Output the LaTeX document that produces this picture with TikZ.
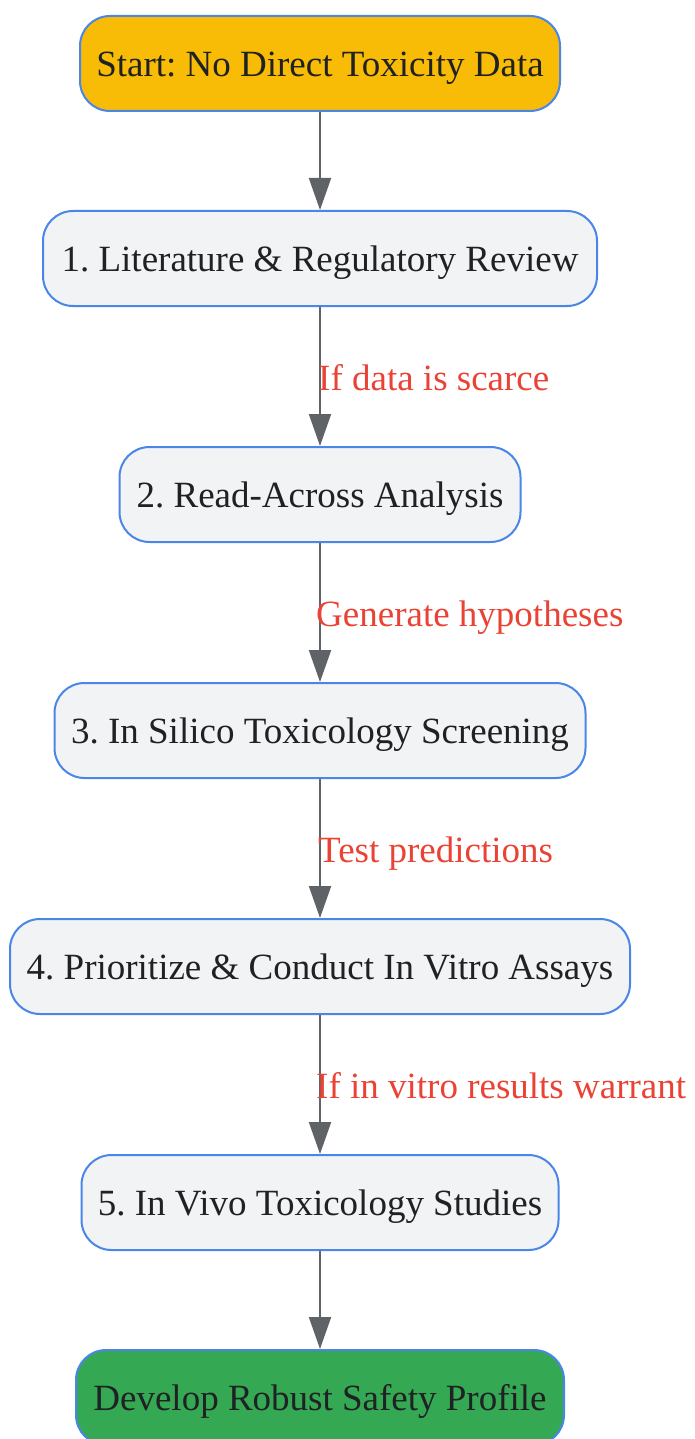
\documentclass[tikz,border=0pt]{standalone}
\usepackage{fontspec}
\setmainfont{Liberation Serif}
\usetikzlibrary{arrows.meta}
\frenchspacing
\definecolor{bordblue}{HTML}{4A86E8}
\definecolor{startfill}{HTML}{F9BC06}
\definecolor{endfill}{HTML}{34A853}
\definecolor{stepfill}{HTML}{F1F3F4}
\definecolor{txt}{HTML}{202124}
\definecolor{arrowgray}{HTML}{5F6368}
\definecolor{lblred}{HTML}{EA4335}
\tikzset{
  box/.style={draw=bordblue, line width=2pt, rounded corners=30pt, minimum height=95pt, inner sep=0pt, text height=34pt, text depth=8pt, text=txt, font=\fontsize{37}{44}\selectfont},
  stepbox/.style={box, fill=stepfill},
  conn/.style={draw=arrowgray, line width=2pt, -{Triangle[length=32pt,width=22pt]}},
  lbl/.style={anchor=west, text=lblred, inner sep=0pt, text height=25pt, text depth=0pt, font=\fontsize{37}{44}\selectfont}
}
\begin{document}
\begin{tikzpicture}[x=1pt,y=-1pt]
\useasboundingbox (0,0) rectangle (695,1439);
\node[box, fill=startfill, minimum width=480pt] (start) at (320,63.5) {Start: No Direct Toxicity Data};
\node[stepbox, minimum width=554pt] (s1) at (320,258.5) {1. Literature \& Regulatory Review};
\node[stepbox, minimum width=401pt] (s2) at (320,494.5) {2. Read-Across Analysis};
\node[stepbox, minimum width=531pt] (s3) at (320,730.5) {3. In Silico Toxicology Screening};
\node[stepbox, minimum width=620pt] (s4) at (320,966.5) {4. Prioritize \& Conduct In Vitro Assays};
\node[stepbox, minimum width=477pt] (s5) at (320,1202.5) {5. In Vivo Toxicology Studies};
\node[box, fill=endfill, minimum width=488pt] (end) at (320,1397.5) {Develop Robust Safety Profile};
\draw[conn] (start) -- (s1);
\draw[conn] (s1) -- (s2);
\draw[conn] (s2) -- (s3);
\draw[conn] (s3) -- (s4);
\draw[conn] (s4) -- (s5);
\draw[conn] (s5) -- (end);
\node[lbl] (l1) at (318,378) {If data is scarce};
\node[lbl] (l2) at (316,614) {Generate hypotheses};
\node[lbl] (l3) at (318,850) {Test predictions};
\node[lbl] (l4) at (316,1086) {If in vitro results warrant};
\end{tikzpicture}
\end{document}
